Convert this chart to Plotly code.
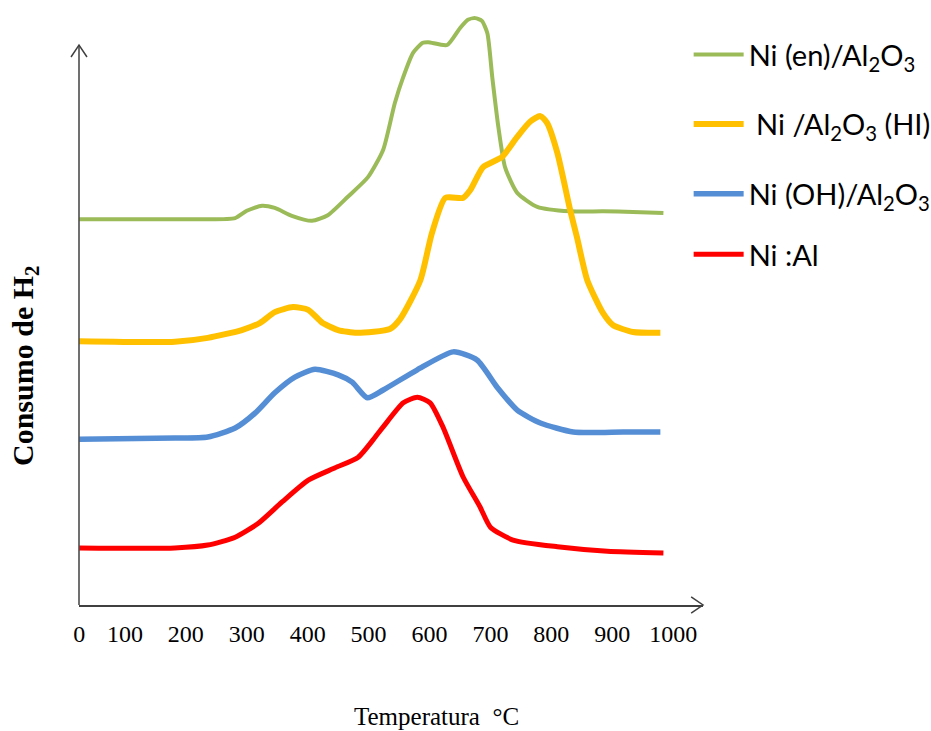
import plotly.graph_objects as go

# ---- data (temperature in °C, H2 consumption in arbitrary units, stacked offsets) ----
green_x = [25, 141, 223, 281, 300, 325, 346, 374, 407, 433, 466, 499, 524, 543, 557, 573, 589, 598,
           629, 650, 663, 675, 686, 695, 703, 713, 724, 744, 777, 831, 885, 934, 984]
green_y = [68.9, 68.9, 68.9, 69.1, 70.4, 71.3, 70.9, 69.5, 68.6, 69.6, 72.9, 76.4, 81.3, 89.6, 94.3, 98.6, 100.4, 100.5,
           100.0, 103.0, 104.5, 104.8, 104.3, 102.1, 94.3, 85.4, 78.2, 73.6, 71.1, 70.3, 70.3, 70.2, 70.0]

yellow_x = [25, 182, 236, 292, 322, 346, 376, 401, 424, 450, 481, 535, 552, 585, 604, 626, 655, 667,
            688, 719, 744, 765, 782, 793, 810, 831, 842, 859, 885, 901, 934, 979]
yellow_y = [47.1, 47.0, 47.7, 49.1, 50.4, 52.3, 53.2, 52.7, 50.4, 49.1, 48.6, 49.3, 51.1, 58.0, 66.4, 72.7, 72.7, 74.1,
            78.2, 80.0, 83.6, 86.3, 87.3, 86.1, 80.7, 70.5, 65.7, 58.0, 52.1, 50.0, 48.75, 48.6]

blue_x = [25, 182, 236, 281, 314, 346, 379, 412, 450, 473, 498, 524, 580, 639, 678, 711, 744, 782, 836, 918, 979]
blue_y = [29.6, 29.8, 30.0, 31.6, 34.3, 37.9, 40.7, 42.1, 41.1, 39.8, 37.0, 38.4, 42.0, 45.2, 43.75, 38.9, 34.8, 32.5,
          30.9, 30.9, 30.9]

red_x = [25, 182, 236, 281, 319, 358, 401, 445, 483, 511, 524, 557, 580, 601, 622, 655, 683, 700, 737, 810, 892, 984]
red_y = [10.2, 10.2, 10.7, 12.1, 14.6, 18.4, 22.3, 24.5, 26.4, 30.0, 31.8, 36.1, 37.1, 36.1, 31.8, 22.9, 17.5, 13.9,
         11.6, 10.4, 9.6, 9.3]

series_names = ["Ni (en)/Al<sub>2</sub>O<sub>3</sub>", " Ni /Al<sub>2</sub>O<sub>3</sub> (HI)",
                "Ni (OH)/Al<sub>2</sub>O<sub>3</sub>", "Ni :Al"]
series_colors = ["#9BBB59", "#FFC000", "#558ED5", "#FF0000"]
series_widths = [4, 6, 5.5, 5]
series_legends = ["legend", "legend", "legend", "legend2"]

tick_vals = [25, 100, 200, 300, 400, 500, 600, 700, 800, 900, 1000]
tick_text = ["0", "100", "200", "300", "400", "500", "600", "700", "800", "900", "1000"]
tick_mark_vals = [103, 203]

x_range = [24.6, 1049]
y_range = [0, 106.25]

fig = go.Figure()
for i, (xs, ys) in enumerate([(green_x, green_y), (yellow_x, yellow_y), (blue_x, blue_y), (red_x, red_y)]):
    fig.add_trace(go.Scatter(
        x=xs, y=ys, mode="lines", name=series_names[i], legendgroup=str(i), legend=series_legends[i],
        line=dict(color=series_colors[i], width=series_widths[i], shape="spline", smoothing=0.6),
        hoverinfo="skip"))

axis_col = "#404040"

# the two short tick marks below the x axis (vertical line markers, not clipped)
tick_offset = -0.9  # half a tick length below the axis, in y units
fig.add_trace(go.Scatter(x=tick_mark_vals, y=[tick_offset] * len(tick_mark_vals), mode="markers",
                         marker=dict(symbol="line-ns", size=10, line=dict(color=axis_col, width=1.5)),
                         cliponaxis=False, showlegend=False, hoverinfo="skip"))

legend_font = dict(family="Lato", size=29, color="black")
fig.update_layout(
    width=931, height=731,
    margin=dict(l=79, r=228, t=10, b=126, autoexpand=False),
    paper_bgcolor="white", plot_bgcolor="white",
    xaxis=dict(range=x_range, showgrid=False, zeroline=False, showline=True, linecolor=axis_col, linewidth=1.5,
               tickmode="array", tickvals=tick_vals, ticktext=tick_text, ticks="outside", ticklen=0,
               ticklabelstandoff=6,
               tickfont=dict(family="Liberation Serif", size=24, color="black")),
    yaxis=dict(range=y_range, showgrid=False, zeroline=False, showline=False, showticklabels=False, ticks=""),
    showlegend=True,
    legend=dict(x=0.977, y=0.968, xanchor="left", yanchor="top", tracegroupgap=29, itemwidth=50,
                font=legend_font, bgcolor="rgba(0,0,0,0)"),
    legend2=dict(x=0.977, y=(605 - 229) / 595, xanchor="left", yanchor="top", itemwidth=50,
                 font=legend_font, bgcolor="rgba(0,0,0,0)"),
)

# y axis line and arrowheads (paper coordinates)
yl = 0.941
fig.add_shape(type="line", xref="paper", yref="paper", x0=0, x1=0, y0=0, y1=yl,
              line=dict(color=axis_col, width=1.5))
fig.add_shape(type="path", xref="paper", yref="paper",
              path=f"M -0.0128 {yl-0.02} L 0 {yl} L 0.0128 {yl-0.02}", line=dict(color=axis_col, width=1.5))
fig.add_shape(type="path", xref="paper", yref="paper",
              path="M 0.981 0.0135 L 1.0 0 L 0.981 -0.0135", line=dict(color=axis_col, width=1.5))

fig.add_annotation(text="Temperatura  °C", xref="paper", yref="paper", x=(436 - 79) / 624, y=(605 - 716) / 595,
                   showarrow=False, font=dict(family="Liberation Serif", size=25, color="black"),
                   xanchor="center", yanchor="middle")
fig.add_annotation(text="<b>Consumo de H<sub>2</sub></b>", xref="paper", yref="paper", x=(25 - 79) / 624,
                   y=(605 - 366) / 595, textangle=-90, showarrow=False,
                   font=dict(family="Liberation Serif", size=30, color="black"),
                   xanchor="center", yanchor="middle")

fig.write_html("out.html")
